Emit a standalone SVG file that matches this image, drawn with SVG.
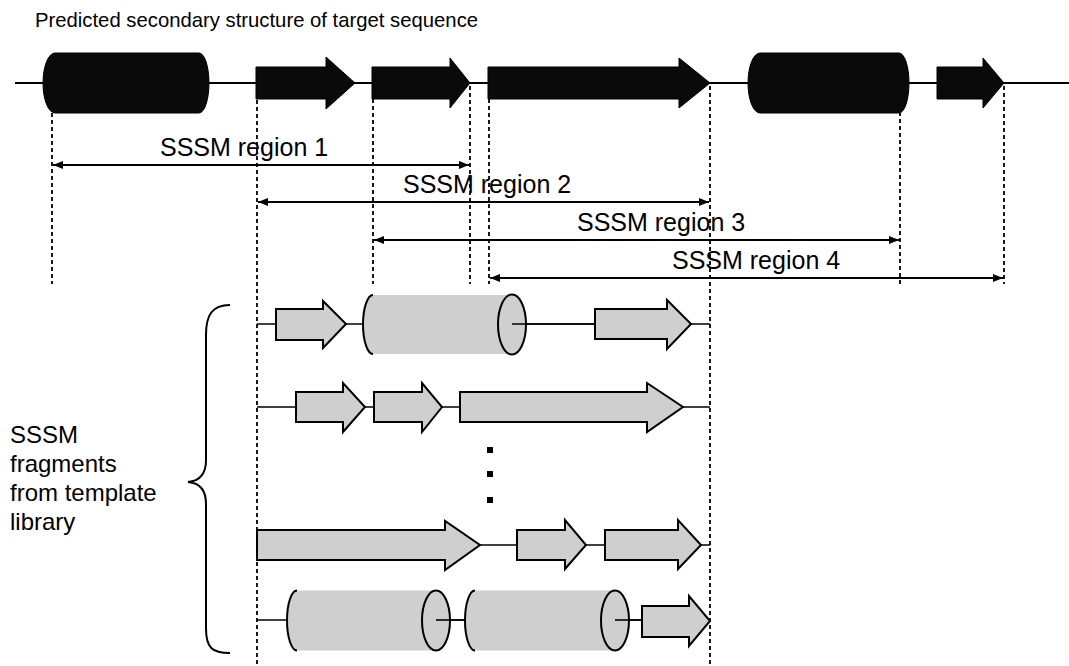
<svg xmlns="http://www.w3.org/2000/svg" width="1069" height="666" viewBox="0 0 1069 666">
<defs>
<style>
.t{font-family:"Liberation Sans",Arial,sans-serif;fill:#000}
.title{font-size:20.3px}
.lbl{font-size:25px}
.side{font-size:24px}
.bb{stroke:#000;stroke-width:2;fill:none}
.bl{stroke:#000;stroke-width:1.6;fill:none}
.dash{stroke:#000;stroke-width:1.8;stroke-dasharray:4 3;fill:none}
.blk{fill:#0a0a0a;stroke:#000;stroke-width:1}
.gs{fill:#cfcfcf;stroke:#000;stroke-width:2;stroke-linejoin:miter}
.gf{fill:#cfcfcf;stroke:none}
.ge{fill:#cfcfcf;stroke:#000;stroke-width:2}
.arc{fill:none;stroke:#000;stroke-width:2}
.reg{stroke:#000;stroke-width:2;fill:none;marker-start:url(#ah);marker-end:url(#ah)}
</style>
<marker id="ah" viewBox="0 0 10 8" refX="10" refY="4" markerWidth="10" markerHeight="8" markerUnits="userSpaceOnUse" orient="auto-start-reverse">
<path d="M0,0 L10,4 L0,8 Z" fill="#000"/>
</marker>
</defs>

<text class="t title" x="35" y="27">Predicted secondary structure of target sequence</text>

<g id="connectors">
<line class="bb" x1="15" y1="83" x2="1069" y2="83"/>
<line class="dash" x1="52" y1="113" x2="52" y2="284"/>
<line class="dash" x1="257" y1="100" x2="257" y2="666"/>
<line class="dash" x1="373" y1="99" x2="373" y2="284"/>
<line class="dash" x1="470" y1="86" x2="470" y2="284"/>
<line class="dash" x1="489" y1="99" x2="489" y2="284"/>
<line class="dash" x1="710" y1="86" x2="710" y2="666"/>
<line class="dash" x1="900" y1="112" x2="900" y2="284"/>
<line class="dash" x1="1004" y1="86" x2="1004" y2="284"/>
<line class="reg" x1="53" y1="165" x2="469" y2="165"/>
<line class="reg" x1="258" y1="202" x2="709" y2="202"/>
<line class="reg" x1="374" y1="240" x2="899" y2="240"/>
<line class="reg" x1="490" y1="278" x2="1003" y2="278"/>
<line class="bl" x1="257" y1="324" x2="710" y2="324"/>
<line class="bl" x1="257" y1="407" x2="710" y2="407"/>
<line class="bl" x1="257" y1="545" x2="710" y2="545"/>
<line class="bl" x1="257" y1="620" x2="710" y2="620"/>
</g>

<g id="target">
<path class="blk" d="M55,53 H199 A10,30 0 0 1 199,113 H55 A12,30 0 0 1 55,53 Z"/>
<path class="blk" d="M256,67 H326 V57 L355,83 L326,109 V99 H256 Z"/>
<path class="blk" d="M372,67 H450 V58 L470,83 L450,108 V99 H372 Z"/>
<path class="blk" d="M488,67 H679 V58 L710,83 L679,108 V99 H488 Z"/>
<path class="blk" d="M760,53 H899 A10,30 0 0 1 899,113 H760 A12,30 0 0 1 760,53 Z"/>
<path class="blk" d="M937,67 H983 V58 L1004,83 L983,108 V99 H937 Z"/>
</g>

<g id="labels">
<text class="t lbl" x="160" y="156">SSSM region 1</text>
<text class="t lbl" x="403" y="193">SSSM region 2</text>
<text class="t lbl" x="577" y="231">SSSM region 3</text>
<text class="t lbl" x="672" y="269">SSSM region 4</text>
</g>

<g id="side-label">
<path class="arc" d="M230,305 C212,305 206,315 206,335 V460 C206,474 200,481 188,482 C200,483 206,490 206,504 V628 C206,648 212,653 230,653"/>
<text class="t side" x="10" y="443">SSSM</text>
<text class="t side" x="10" y="472">fragments</text>
<text class="t side" x="10" y="501">from template</text>
<text class="t side" x="10" y="530">library</text>
</g>

<g id="fragment1">
<path class="gs" d="M276,309 H323 V301 L346,324 L323,348 V340 H276 Z"/>
<path class="gf" d="M373,295 H512 V354 H373 A10,29.5 0 0 1 373,295 Z"/>
<path class="arc" d="M373,295 A10,29.5 0 0 0 373,354"/>
<ellipse class="ge" cx="512" cy="324.5" rx="14" ry="30"/>
<line class="bl" x1="512" y1="324" x2="595" y2="324"/>
<path class="gs" d="M595,309 H667 V300 L691,324 L667,349 V339 H595 Z"/>
</g>

<g id="fragment2">
<path class="gs" d="M296,392 H343 V383 L365,407 L343,432 V422 H296 Z"/>
<path class="gs" d="M374,392 H422 V383 L442,407 L422,432 V422 H374 Z"/>
<path class="gs" d="M460,392 H647 V383 L683,407 L647,432 V422 H460 Z"/>
</g>

<g id="ellipsis">
<rect x="487" y="447" width="6" height="6" fill="#000"/>
<rect x="487" y="471" width="6" height="6" fill="#000"/>
<rect x="487" y="497" width="6" height="6" fill="#000"/>
</g>

<g id="fragment3">
<path class="gs" d="M257,530 H445 V521 L480,545 L445,570 V560 H257 Z"/>
<path class="gs" d="M517,530 H565 V520 L586,545 L565,569 V560 H517 Z"/>
<path class="gs" d="M605,530 H678 V520 L701,545 L678,569 V560 H605 Z"/>
</g>

<g id="fragment4">
<path class="gf" d="M297,590.5 H436 V650.5 H297 A10,30 0 0 1 297,590.5 Z"/>
<path class="arc" d="M297,590.5 A10,30 0 0 0 297,650.5"/>
<ellipse class="ge" cx="436" cy="620.5" rx="14" ry="30"/>
<line class="bl" x1="436" y1="620" x2="465" y2="620"/>
<path class="gf" d="M475,590.5 H615 V650.5 H475 A10,30 0 0 1 475,590.5 Z"/>
<path class="arc" d="M475,590.5 A10,30 0 0 0 475,650.5"/>
<ellipse class="ge" cx="615" cy="620.5" rx="14" ry="30"/>
<line class="bl" x1="615" y1="620" x2="642" y2="620"/>
<path class="gs" d="M642,606 H689 V596 L710,621 L689,646 V637 H642 Z"/>
</g>
</svg>
